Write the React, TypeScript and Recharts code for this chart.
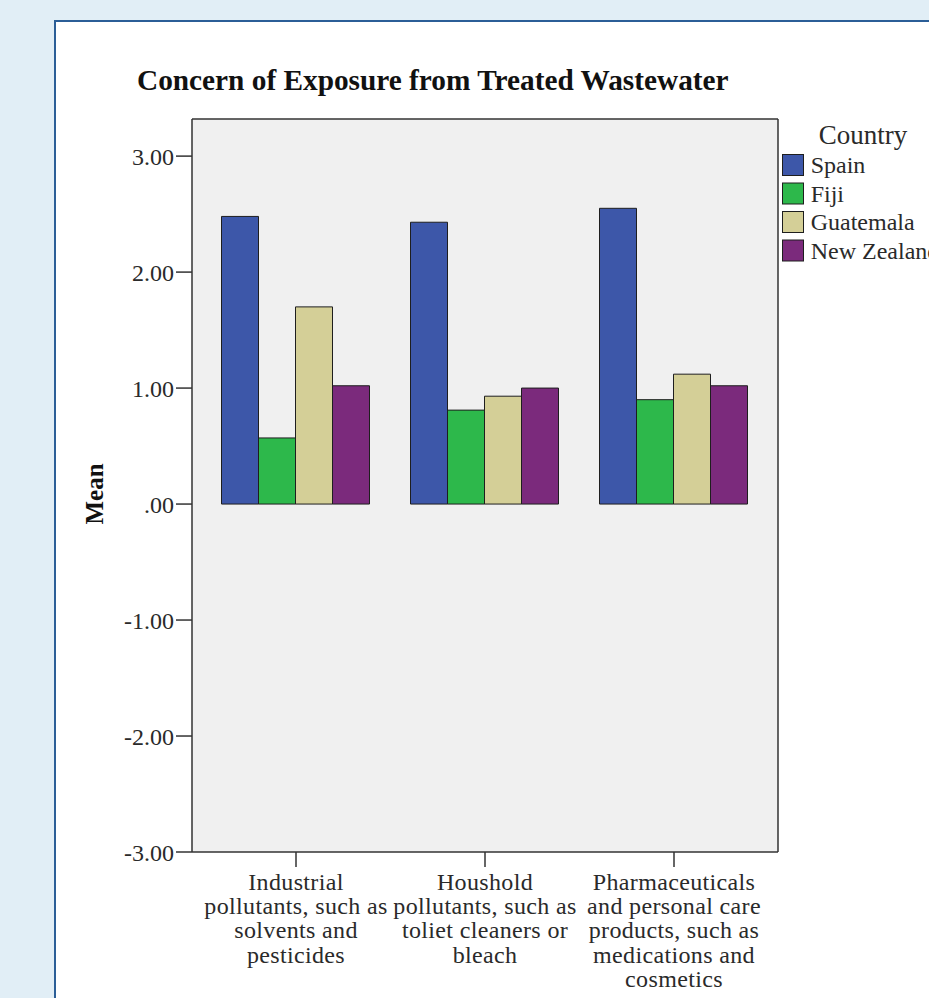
import React from 'react';
import { BarChart, Bar, XAxis, YAxis, Legend, CartesianGrid } from 'recharts';

const categories = ['Industrial', 'Houshold', 'Pharmaceuticals'];
const categoryLines = [
  ['Industrial', 'pollutants, such as', 'solvents and', 'pesticides'],
  ['Houshold', 'pollutants, such as', 'toliet cleaners or', 'bleach'],
  ['Pharmaceuticals', 'and personal care', 'products, such as', 'medications and', 'cosmetics'],
];
const seriesNames = ['Spain', 'Fiji', 'Guatemala', 'New Zealand'];
const spain = [2.48, 2.43, 2.55];
const fiji = [0.57, 0.81, 0.9];
const guatemala = [1.7, 0.93, 1.12];
const newZealand = [1.02, 1.0, 1.02];
const yTicks = [-3, -2, -1, 0, 1, 2, 3];
const colors = ['#3d57a9', '#2db84b', '#d4cf97', '#7b2a7c'];

const seriesValues = [spain, fiji, guatemala, newZealand];
const data = categories.map((c, i) => {
  const row: any = { category: c };
  seriesNames.forEach((s, k) => {
    row[s] = seriesValues[k][i];
  });
  return row;
});

const FONT = '"Liberation Serif", "Times New Roman", serif';
const AXIS = '#333333';

const fmt = (v: number) => (v === 0 ? '.00' : v.toFixed(2));

const CatTick = (props: any) => {
  const { x, y, payload } = props;
  const idx = categories.indexOf(payload.value);
  const lines = idx >= 0 ? categoryLines[idx] : [String(payload.value)];
  return (
    <text x={x} y={y + 21} textAnchor="middle" fill="#2a2a2a" fontFamily={FONT} fontSize={24} letterSpacing={0.35}>
      {lines.map((l, i) => (
        <tspan key={i} x={x} dy={i === 0 ? 0 : 24.2}>
          {l}
        </tspan>
      ))}
    </text>
  );
};

const renderLegend = () => (
  <svg width={160} height={160} style={{ display: 'block', overflow: 'visible' }}>
    <text x={83} y={26} textAnchor="middle" fontFamily={FONT} fontSize={27} fill="#2a2a2a">
      Country
    </text>
    {seriesNames.map((s, i) => (
      <g key={s}>
        <rect x={2.5} y={36.5 + 28.5 * i} width={21} height={21} fill={colors[i]} stroke="#1e1e1e" strokeWidth={1} />
        <text x={30.7} y={55.3 + 28.5 * i} fontFamily={FONT} fontSize={24} fill="#2a2a2a">
          {s}
        </text>
      </g>
    ))}
  </svg>
);

const MeanLabel = () => (
  <text
    x={103}
    y={494}
    transform="rotate(-90 103 494)"
    textAnchor="middle"
    fontFamily={FONT}
    fontWeight="bold"
    fontSize={25}
    fill="#111"
  >
    Mean
  </text>
);

export default function App() {
  return (
    <div
      style={{
        position: 'fixed',
        left: 0,
        top: 0,
        width: 929,
        height: 998,
        overflow: 'hidden',
        background: '#e1eef6',
      }}
    >
      <div
        style={{
          position: 'absolute',
          left: 54,
          top: 20,
          width: 920,
          height: 1020,
          border: '2px solid #2b5e97',
          background: '#ffffff',
          boxSizing: 'border-box',
        }}
      />
      <svg width={929} height={120} style={{ position: 'absolute', left: 0, top: 0 }}>
        <text x={137} y={89.5} fontFamily={FONT} fontWeight="bold" fontSize={29.3} fill="#111">
          Concern of Exposure from Treated Wastewater
        </text>
      </svg>
      <div style={{ position: 'absolute', left: 0, top: 0 }}>
        <BarChart
          width={929}
          height={998}
          data={data}
          margin={{ top: 119, right: 151, left: 0, bottom: 0 }}
          barCategoryGap={20}
          barGap={0}
        >
          <CartesianGrid
            fill="#f0f0f0"
            stroke={AXIS}
            strokeWidth={1.5}
            horizontalCoordinatesGenerator={({ offset }: any) => [offset.top]}
            verticalCoordinatesGenerator={({ offset }: any) => [offset.left + offset.width]}
          />
          <XAxis
            dataKey="category"
            height={146}
            padding={{ left: 9.5, right: 9.5 }}
            tickSize={15}
            tickMargin={2}
            tick={<CatTick />}
            interval={0}
            axisLine={{ stroke: AXIS, strokeWidth: 1.5 }}
            tickLine={{ stroke: AXIS, strokeWidth: 1.5 }}
          />
          <YAxis
            width={192}
            domain={[-3, 3.32]}
            ticks={yTicks}
            tickFormatter={fmt}
            allowDataOverflow
            tickSize={16}
            tickMargin={2}
            tick={{ fontFamily: FONT, fontSize: 24, fill: '#2a2a2a' }}
            axisLine={{ stroke: AXIS, strokeWidth: 1.5 }}
            tickLine={{ stroke: AXIS, strokeWidth: 1.5 }}
            label={<MeanLabel />}
          />
          <Legend
            content={renderLegend}
            verticalAlign="middle"
            align="center"
            layout="vertical"
            wrapperStyle={{ position: 'absolute', left: 780, top: 118, width: 160, height: 160 }}
          />
          {seriesNames.map((s, i) => (
            <Bar key={s} dataKey={s} fill={colors[i]} stroke="#1e1e1e" strokeWidth={1} isAnimationActive={false} />
          ))}
        </BarChart>
      </div>
    </div>
  );
}
